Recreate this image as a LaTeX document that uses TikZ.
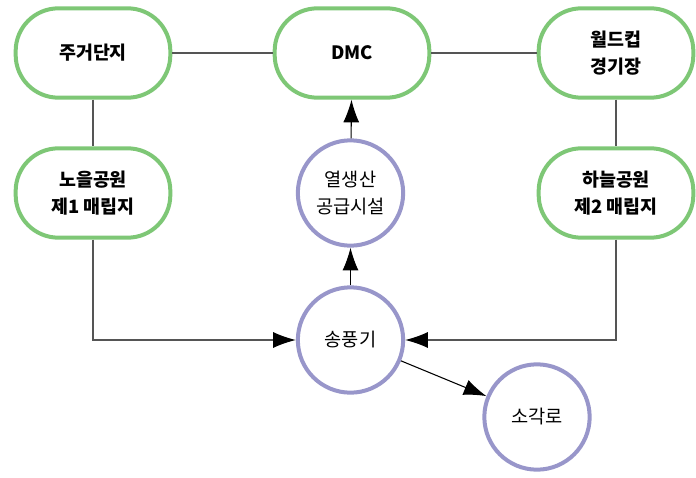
\documentclass[tikz,border=0pt]{standalone}
\usepackage{fontspec}
\usepackage{tikz}
\usetikzlibrary{arrows.meta}
\newfontfamily\kr{Noto Sans CJK KR}
\definecolor{boxgreen}{RGB}{126,199,118}
\definecolor{ringblue}{RGB}{152,150,202}
\definecolor{wire}{RGB}{85,85,85}
\tikzset{
  site/.style={draw=boxgreen, line width=3pt, rounded corners=32pt, minimum width=116pt, minimum height=67pt, align=center, font={\kr\bfseries\fontsize{13.8}{20}\selectfont}},
  plant/.style={draw=ringblue, line width=3pt, circle, minimum size=79pt, inner sep=0pt, align=center, font={\kr\fontsize{14}{20.5}\selectfont}},
  link/.style={wire, line width=0.8pt},
  flow/.style={wire, line width=0.8pt, -{Latex[length=17pt,width=12pt,color=black]}}
}
\begin{document}
\begin{tikzpicture}[x=0.75pt,y=-0.75pt]
\useasboundingbox (0,0) rectangle (696,478);

\node[site] (jugeo) at (93,53) {주거단지};
\node[site] (dmc) at (352,53) {DMC};
\node[site] (worldcup) at (616,53) {월드컵\\경기장};
\node[site] (noeul) at (93,193) {노을공원\\제1 매립지};
\node[site] (haneul) at (616,193) {하늘공원\\제2 매립지};

\node[plant] (heat) at (350.5,193) {열생산\\공급시설};
\node[plant] (fan) at (350.5,340) {송풍기};
\node[plant] (burner) at (537,417) {소각로};

\draw[link] (jugeo) -- (dmc);
\draw[link] (dmc) -- (worldcup);
\draw[link] (jugeo) -- (noeul);
\draw[link] (worldcup) -- (haneul);

\draw[flow] (noeul.south) |- (fan.west);
\draw[flow] (haneul.south) |- (fan.east);
\draw[flow,black] (fan) -- (heat);
\draw[flow,black] (heat) -- (dmc);
\draw[flow,black] (fan) -- (burner);
\end{tikzpicture}
\end{document}
